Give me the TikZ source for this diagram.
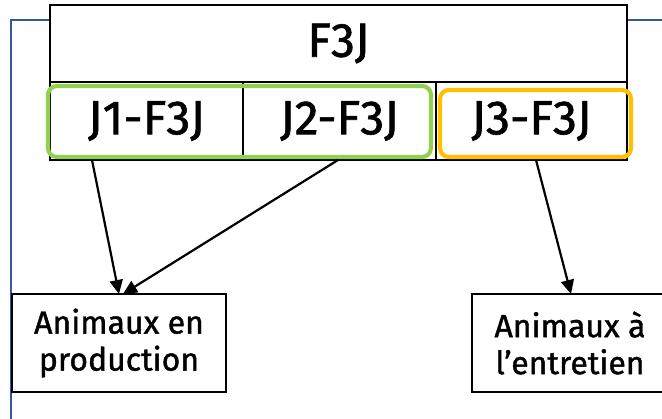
\documentclass[tikz,border=0pt]{standalone}
\usepackage{fontspec}
\setmainfont{Fira Sans}[FakeBold=1.3]
\usetikzlibrary{arrows.meta}
\definecolor{frameblue}{RGB}{52,88,156}
\definecolor{grn}{RGB}{146,208,80}
\definecolor{org}{RGB}{255,192,0}
\begin{document}
\begin{tikzpicture}[x=1pt,y=-1pt,
  cell/.style={draw, fill=white, line width=2.4pt, inner sep=0pt, outer sep=0pt, font=\fontsize{48}{50}\selectfont},
  tag/.style={rounded corners=9pt, line width=4.2pt},
  leaf/.style={draw, fill=white, line width=2pt, inner sep=0pt, outer sep=0pt, align=center, font=\fontsize{32}{37}\selectfont},
  link/.style={line width=2.2pt, -{Triangle[length=14pt,width=13pt]}}]
\useasboundingbox (0,0) rectangle (662,419);
\clip (0,0) rectangle (662,419);
\draw[frameblue, line width=2.6pt] (11,20) rectangle (700,500);
\node[cell, minimum width=577pt, minimum height=77pt] (title) at (338.5,43.5) {F3J};
\node[cell, minimum width=193pt, minimum height=78pt] (j1) at (146.5,121) {J1-F3J};
\node[cell, minimum width=193pt, minimum height=78pt] (j2) at (339.5,121) {J2-F3J};
\node[cell, minimum width=191pt, minimum height=78pt] (j3) at (531.5,121) {J3-F3J};
\draw[tag, grn] (48,86) rectangle (431,157);
\draw[tag, org] (440,90) rectangle (631,157);
\node[leaf, minimum width=214pt, minimum height=98pt] (prod) at (119,343) {Animaux en\\production};
\node[leaf, minimum width=196pt, minimum height=98pt] (entr) at (570,343) {Animaux à\\l’entretien};
\draw[link] ([xshift=-54.5pt]j1.south) -- (prod.north);
\draw[link] ([xshift=-1.5pt]j2.south) -- ([xshift=4pt]prod.north);
\draw[link] ([xshift=4.5pt]j3.south) -- ([xshift=1pt]entr.north);
\end{tikzpicture}
\end{document}
